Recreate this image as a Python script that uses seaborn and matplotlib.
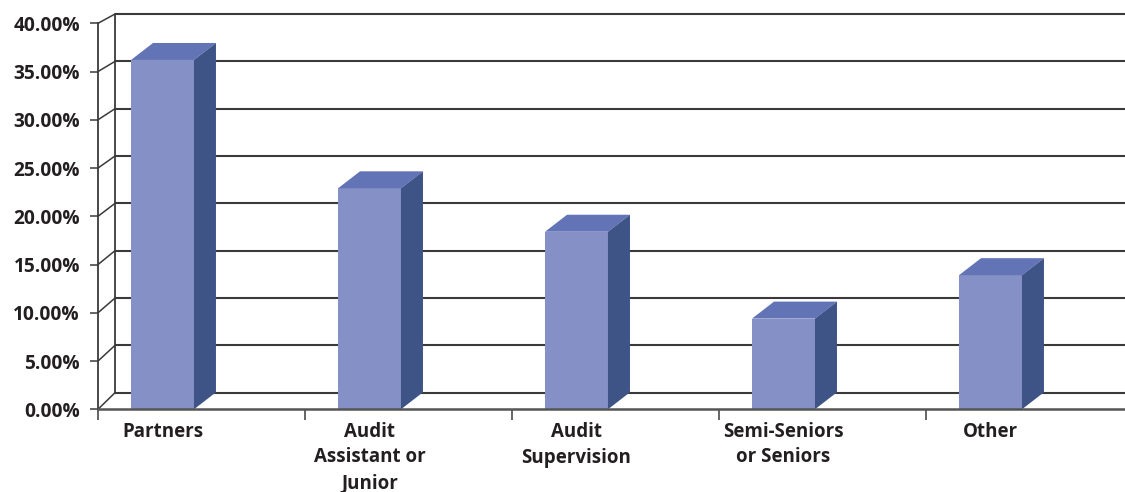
import numpy as np
import pandas as pd
import matplotlib
matplotlib.use("Agg")
import matplotlib.pyplot as plt
from matplotlib.patches import Polygon
import seaborn as sns

# Share of respondents by audit position
categories = ["Partners", "Audit\nAssistant or\nJunior", "Audit\nSupervision",
              "Semi-Seniors\nor Seniors", "Other"]
shares = [36.2, 22.9, 18.4, 9.4, 13.9]
y_ticks = [0, 5, 10, 15, 20, 25, 30, 35, 40]
y_tick_labels = [f"{v:.2f}%" for v in y_ticks]

sns.set_style("white")
plt.rcParams["font.family"] = ["Open Sans", "DejaVu Sans"]
plt.rcParams["font.weight"] = "bold"

FRONT = "#8591C6"
TOP = "#6374B6"
SIDE = "#3E5487"
GRID = "#3a3a3a"
TEXT = "#231F20"

W, H, DPI = 1125, 492, 100
fig = plt.figure(figsize=(W / DPI, H / DPI), dpi=DPI)

# front plane of the 3-D box in pixels
x0_px, base_px, cat_px, pct_px = 98, 409.3, 207.0, 9.65
bar_w = 0.304
first_center_px = 162.5
ax = fig.add_axes([x0_px / W, (H - base_px) / H,
                   5 * cat_px / W, base_px / H])

df = pd.DataFrame({"position": categories, "share": shares})
sns.barplot(data=df, x="position", y="share", color=FRONT, saturation=1,
            width=bar_w, linewidth=0, ax=ax, zorder=3)

xmin = (x0_px - first_center_px) / cat_px
xmax = xmin + 5
ax.set_xlim(xmin, xmax)
ax.set_ylim(0, base_px / pct_px)

# depth offsets (data units)
px_x = 1 / cat_px
px_y = 1 / pct_px
wall_dx = 17 * px_x
bar_dx, bar_dy = 22 * px_x, 17 * px_y


def wall_y(v):
    # back-wall height of a value (slight perspective shrink)
    return v * 0.981 + 16.6 * px_y


for v in y_ticks:
    ax.plot([xmin + wall_dx, xmax], [wall_y(v)] * 2, color=GRID, lw=1.5,
            zorder=1, solid_capstyle="butt")
    ax.plot([xmin, xmin + wall_dx], [v, wall_y(v)], color=GRID, lw=1.1,
            zorder=1)
ax.plot([xmin + wall_dx] * 2, [wall_y(0), wall_y(40)], color=GRID, lw=1.3,
        zorder=1)

# top and side faces of each column
for i, v in enumerate(shares):
    xl, xr = i - bar_w / 2, i + bar_w / 2
    ax.add_patch(Polygon([(xl, v), (xr, v), (xr + bar_dx, v + bar_dy),
                          (xl + bar_dx, v + bar_dy)], closed=True,
                         facecolor=TOP, edgecolor="none", zorder=3))
    ax.add_patch(Polygon([(xr, 0), (xr, v), (xr + bar_dx, v + bar_dy),
                          (xr + bar_dx, bar_dy)], closed=True,
                         facecolor=SIDE, edgecolor="none", zorder=3))

for s in ["top", "right"]:
    ax.spines[s].set_visible(False)
ax.spines["left"].set_bounds(0, 40)
ax.spines["left"].set_color(GRID)
ax.spines["left"].set_linewidth(1.3)
ax.spines["bottom"].set_color("#555555")
ax.spines["bottom"].set_linewidth(1.8)
ax.spines["bottom"].set_zorder(4)

ax.set_yticks(y_ticks)
ax.set_yticklabels(y_tick_labels, fontsize=13.8, fontweight="bold", color=TEXT)
ax.tick_params(axis="y", length=5.5, width=1.1, color=GRID, pad=7.5, left=True)

ax.set_xticks(range(len(categories)))
ax.set_xticklabels(categories, fontsize=13.5, fontweight="bold", color=TEXT,
                   linespacing=1.38)
ax.set_xticks([xmin + k for k in range(6)], minor=True)
ax.tick_params(axis="x", which="major", length=0, pad=9)
ax.tick_params(axis="x", which="minor", length=8, width=1.1, color=GRID,
               bottom=True)
ax.set_xlabel("")
ax.set_ylabel("")
ax.grid(False)

fig.savefig("out.png", dpi=DPI)
